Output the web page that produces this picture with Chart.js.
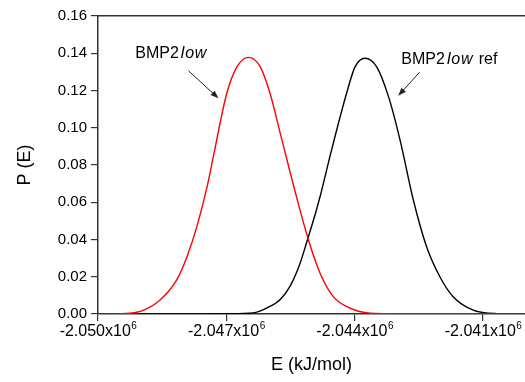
<!DOCTYPE html>
<html>
<head>
<meta charset="utf-8">
<script src="https://cdn.jsdelivr.net/npm/chart.js@4.4.1/dist/chart.umd.min.js"></script>
<style>
    html, body { margin: 0; padding: 0; background: #fff; overflow: hidden; }
    #wrap { width: 525px; height: 382px; position: relative; }
</style>
</head>
<body>
<div id="wrap"><canvas id="energyChart"></canvas></div>
<script>
// BMP2low curve: E (kJ/mol) and P(E)
const lowE = [-2050000, -2049710, -2049250, -2048930, -2048550, -2048160, -2047920, -2047690,
    -2047450, -2047300, -2046990, -2046750, -2046480, -2046210, -2045980, -2045740,
    -2045350, -2045080, -2044810, -2044500, -2044110, -2043640, -2042940, -2040000];
const lowP = [0, 0, 0.0004, 0.0021, 0.0075, 0.0183, 0.0308, 0.0469,
    0.0684, 0.0850, 0.1185, 0.1328, 0.1378, 0.1328, 0.1185, 0.0970,
    0.0620, 0.0397, 0.0219, 0.0093, 0.0031, 0.0004, 0, 0];

// BMP2low ref curve
const refE = [-2050000, -2047610, -2046990, -2046370, -2046050, -2045740, -2045510, -2045280,
    -2045110, -2044930, -2044810, -2044540, -2044190, -2043990, -2043760, -2043490,
    -2043210, -2042940, -2042630, -2042320, -2042010, -2041700, -2041230, -2040680, -2040000];
const refP = [0, 0, 0.0001, 0.0006, 0.0033, 0.0078, 0.0150, 0.0270,
    0.0395, 0.0530, 0.0630, 0.0881, 0.1185, 0.1328, 0.1373, 0.1328,
    0.1167, 0.0934, 0.0612, 0.0361, 0.0200, 0.0093, 0.0021, 0.0002, 0];

const xTicks = [-2050000, -2047000, -2044000, -2041000];
const yTicks = [0, 0.02, 0.04, 0.06, 0.08, 0.10, 0.12, 0.14, 0.16];

const FONT = "'Liberation Sans', Arial, sans-serif";

function toPoints(xs, ys) {
    return xs.map((x, i) => ({ x: x, y: ys[i] }));
}

// x tick labels as "-2.050x10" with a raised 6
const sciTicksPlugin = {
    id: 'sciTicks',
    afterDraw(chart) {
        const ctx = chart.ctx;
        const xs = chart.scales.x;
        const y = chart.chartArea.bottom + 18;
        ctx.save();
        ctx.fillStyle = '#000';
        ctx.textBaseline = 'middle';
        ctx.textAlign = 'left';
        xTicks.forEach(v => {
            const base = (v / 1e6).toFixed(3) + 'x10';
            ctx.font = '16px ' + FONT;
            const w = ctx.measureText(base).width;
            ctx.font = '10px ' + FONT;
            const ws = ctx.measureText('6').width;
            const x0 = xs.getPixelForValue(v) - (w + ws) / 2;
            ctx.font = '16px ' + FONT;
            ctx.fillText(base, x0, y);
            ctx.font = '10px ' + FONT;
            ctx.fillText('6', x0 + w + 0.5, y - 6);
        });
        ctx.restore();
    }
};

// text labels with arrows pointing at each curve
const calloutPlugin = {
    id: 'callouts',
    afterDatasetsDraw(chart) {
        const ctx = chart.ctx;
        const xs = chart.scales.x, ys = chart.scales.y;
        const px = v => xs.getPixelForValue(v);
        const py = v => ys.getPixelForValue(v);

        function label(x, y, parts) {
            let cx = px(x);
            ctx.textBaseline = 'middle';
            ctx.textAlign = 'left';
            ctx.fillStyle = '#000';
            parts.forEach(p => {
                ctx.font = (p.italic ? 'italic ' : '') + '16px ' + FONT;
                ctx.letterSpacing = p.italic ? '0.8px' : '0px';
                cx += p.gap || 0;
                ctx.fillText(p.text, cx, py(y));
                cx += ctx.measureText(p.text).width;
            });
            ctx.letterSpacing = '0px';
        }

        function arrow(x1, y1, x2, y2) {
            const ax = px(x1), ay = py(y1), bx = px(x2), by = py(y2);
            const ang = Math.atan2(by - ay, bx - ax);
            ctx.strokeStyle = '#222';
            ctx.fillStyle = '#222';
            ctx.lineWidth = 1;
            ctx.beginPath();
            ctx.moveTo(ax, ay);
            ctx.lineTo(bx - 6 * Math.cos(ang), by - 6 * Math.sin(ang));
            ctx.stroke();
            ctx.beginPath();
            ctx.moveTo(bx, by);
            ctx.lineTo(bx - 8 * Math.cos(ang) + 3 * Math.sin(ang), by - 8 * Math.sin(ang) - 3 * Math.cos(ang));
            ctx.lineTo(bx - 8 * Math.cos(ang) - 3 * Math.sin(ang), by - 8 * Math.sin(ang) + 3 * Math.cos(ang));
            ctx.closePath();
            ctx.fill();
        }

        ctx.save();
        label(-2049130, 0.1396, [{ text: 'BMP2' }, { text: 'low', italic: true, gap: 2 }]);
        arrow(-2047885, 0.1306, -2047184, 0.1158);
        label(-2042910, 0.1364, [{ text: 'BMP2' }, { text: 'low', italic: true, gap: 2 }, { text: ' ref', gap: 1 }]);
        arrow(-2042485, 0.1298, -2042982, 0.1172);
        ctx.restore();
    }
};

document.addEventListener('DOMContentLoaded', function () {
    const canvas = document.getElementById('energyChart');
    const ctx = canvas.getContext('2d');

    Chart.defaults.font.family = FONT;
    Chart.defaults.color = '#000';

    new Chart(ctx, {
        type: 'line',
        data: {
            datasets: [
                {
                    label: 'BMP2low',
                    data: toPoints(lowE, lowP),
                    borderColor: '#ff0000',
                    borderWidth: 1.4,
                    pointRadius: 0,
                    cubicInterpolationMode: 'monotone',
                    fill: false,
                    order: 1
                },
                {
                    label: 'BMP2low ref',
                    data: toPoints(refE, refP),
                    borderColor: '#000000',
                    borderWidth: 1.4,
                    pointRadius: 0,
                    cubicInterpolationMode: 'monotone',
                    fill: false,
                    order: 2
                }
            ]
        },
        options: {
            responsive: true,
            maintainAspectRatio: false,
            animation: false,
            layout: {
                padding: { left: 0, right: 0, top: 16, bottom: 3 }
            },
            plugins: {
                legend: { display: false },
                tooltip: { enabled: false }
            },
            scales: {
                x: {
                    type: 'linear',
                    position: 'bottom',
                    min: -2050000,
                    max: -2040020,
                    afterBuildTicks: function (scale) {
                        scale.ticks = xTicks.map(v => ({ value: v }));
                    },
                    afterFit: function (scale) {
                        scale.height = 65;
                    },
                    ticks: { display: false },
                    grid: {
                        drawOnChartArea: false,
                        drawTicks: true,
                        tickLength: 7,
                        color: '#333',
                        lineWidth: 1.2
                    },
                    border: { display: true, color: '#333', width: 1.5 },
                    title: {
                        display: true,
                        text: 'E (kJ/mol)',
                        font: { size: 18 },
                        color: '#000',
                        padding: { top: 0, bottom: 3 }
                    }
                },
                x2: {
                    type: 'linear',
                    position: 'top',
                    min: -2050000,
                    max: -2040020,
                    afterFit: function (scale) {
                        scale.height = 0;
                    },
                    ticks: { display: false },
                    grid: { display: false, drawTicks: false },
                    border: { display: true, color: '#333', width: 1.5 }
                },
                y: {
                    min: 0,
                    max: 0.16,
                    afterBuildTicks: function (scale) {
                        scale.ticks = yTicks.map(v => ({ value: v }));
                    },
                    afterFit: function (scale) {
                        scale.width = 98;
                    },
                    ticks: {
                        callback: v => v.toFixed(2),
                        font: { size: 15 },
                        color: '#000',
                        padding: 4
                    },
                    grid: {
                        drawOnChartArea: false,
                        drawTicks: true,
                        tickLength: 7,
                        color: '#333',
                        lineWidth: 1.2
                    },
                    border: { display: true, color: '#333', width: 1.5 },
                    title: {
                        display: true,
                        text: 'P (E)',
                        font: { size: 18 },
                        color: '#000',
                        padding: { top: 14, bottom: 0 }
                    }
                }
            }
        },
        plugins: [calloutPlugin, sciTicksPlugin]
    });
});
</script>
</body>
</html>
